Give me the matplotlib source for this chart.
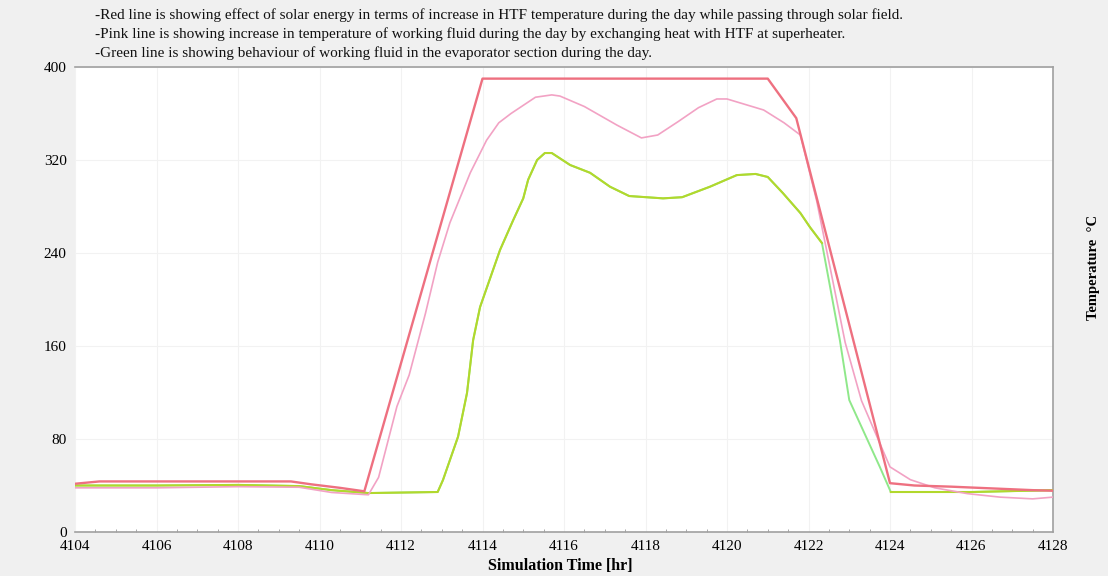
import numpy as np
import matplotlib
matplotlib.use("Agg")
import matplotlib.pyplot as plt

plt.rcParams['font.family'] = ['Liberation Serif', 'DejaVu Serif']

# HTF leaving the solar field
htf_t = [4104.0, 4104.6, 4109.3, 4109.8, 4110.5, 4111.1, 4114.0, 4121.0, 4121.7,
         4124.0, 4124.6, 4125.5, 4126.5, 4127.5, 4128.0]
htf_T = [41.5, 43.5, 43.5, 41.0, 38.0, 35.0, 390.0, 390.0, 356.0,
         42.0, 40.0, 39.0, 37.5, 36.0, 35.5]

# working fluid after the superheater
sh_t = [4104.0, 4106.0, 4108.0, 4109.5, 4110.3, 4111.2, 4111.45, 4111.9, 4112.2,
        4112.6, 4112.9, 4113.2, 4113.7, 4114.1, 4114.4, 4114.7, 4115.3, 4115.7,
        4115.9, 4116.5, 4117.3, 4117.9, 4118.3, 4118.8, 4119.3, 4119.75, 4120.0,
        4120.9, 4121.4, 4121.8, 4122.2, 4122.9, 4123.3, 4124.0, 4124.5, 4125.1,
        4125.9, 4126.7, 4127.5, 4128.0]
sh_T = [38.0, 38.0, 39.0, 38.5, 34.0, 32.0, 47.0, 108.0, 135.0,
        188.0, 232.0, 266.0, 309.0, 337.0, 352.0, 360.0, 374.0, 376.0,
        375.0, 366.0, 350.0, 339.0, 341.5, 353.0, 365.0, 372.5, 372.5,
        363.0, 352.0, 341.5, 285.0, 163.0, 113.0, 56.0, 45.0, 38.0,
        33.0, 30.0, 28.5, 30.0]

# working fluid in the evaporator
ev_t = [4104.0, 4106.0, 4108.0, 4109.5, 4110.3, 4111.2, 4112.9, 4113.03, 4113.4,
        4113.62, 4113.77, 4113.94, 4114.43, 4114.75, 4115.0, 4115.12, 4115.34,
        4115.53, 4115.7, 4116.15, 4116.64, 4117.13, 4117.6, 4118.43, 4118.9,
        4119.58, 4120.24, 4120.7, 4121.0, 4121.37, 4121.8, 4122.04, 4122.33,
        4122.53, 4122.77, 4123.0, 4123.75, 4124.02, 4126.0, 4128.0]
ev_T = [40.0, 40.0, 40.5, 39.5, 36.0, 33.5, 34.4, 44.7, 82.0,
        119.6, 165.0, 193.5, 242.6, 268.0, 287.0, 303.0, 320.0,
        326.0, 326.0, 315.7, 309.0, 297.0, 289.0, 287.0, 288.0,
        297.0, 307.0, 308.0, 305.4, 291.6, 274.4, 262.0, 248.6,
        210.8, 165.0, 113.5, 56.0, 34.4, 34.4, 36.0]

x_ticks = np.arange(4104, 4129, 2)
y_ticks = [0, 80, 160, 240, 320, 400]

notes = [
    "-Red line is showing effect of solar energy in terms of increase in HTF temperature during the day while passing through solar field.",
    "-Pink line is showing increase in temperature of working fluid during the day by exchanging heat with HTF at superheater.",
    "-Green line is showing behaviour of working fluid in the evaporator section during the day.",
]

fig = plt.figure(figsize=(11.08, 5.76), dpi=100)
fig.patch.set_facecolor('#f0f0f0')
ax = fig.add_axes([75 / 1108, 44 / 576, 978 / 1108, 465 / 576])
ax.set_facecolor('white')

ev_t_arr = np.array(ev_t)
ev_T_arr = np.array(ev_T)
ax.plot(ev_t, ev_T, color='#8fe88a', lw=1.4, zorder=2)
# evaporator trace shows yellow-green except on the evening drop
keep = np.where((ev_t_arr > 4122.4) & (ev_t_arr < 4124.0), np.nan, ev_T_arr)
ax.plot(ev_t_arr, keep, color='#b2d82c', lw=1.5, zorder=3)
ax.plot(sh_t, sh_T, color='#f2a2c4', lw=1.2, zorder=4)
ax.plot(htf_t, htf_T, color='#ee7080', lw=1.7, zorder=5)

ax.set_xlim(4104, 4128)
ax.set_ylim(0, 400)
ax.set_xticks(x_ticks)
ax.set_yticks(y_ticks)
ax.set_xticks(np.arange(4104, 4128.1, 0.5), minor=True)
ax.tick_params(axis='both', which='major', length=0, labelsize=11, pad=6)
ax.tick_params(axis='x', which='minor', direction='in', length=2, color='#999999')
ax.tick_params(axis='y', which='minor', length=0)
ax.grid(True, which='major', color='#f2f2f2', lw=0.8)

for side in ['top', 'right', 'bottom']:
    ax.spines[side].set_color('#a0a0a0')
    ax.spines[side].set_linewidth(1.2)
ax.spines['left'].set_visible(False)

for i, line in enumerate(notes):
    fig.text(95 / 1108, 1 - (15 + 19 * i) / 576, line, fontsize=11,
             ha='left', va='center', color='#111111')

fig.text(560 / 1108, 1 - 566 / 576, "Simulation Time [hr]", fontsize=11.5,
         fontweight='bold', ha='center', va='center')
fig.text(1093 / 1108, 1 - 267 / 576, "Temperature  °C", fontsize=10.5,
         fontweight='bold', rotation=90, ha='center', va='center')

fig.savefig('out.png', dpi=100, facecolor=fig.get_facecolor())
